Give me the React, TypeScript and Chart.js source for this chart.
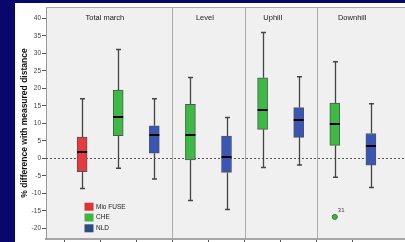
import React, { useEffect, useRef } from 'react';
import { Chart, registerables } from 'chart.js';

Chart.register(...registerables);

// slot 0 and slot 10 are empty padding slots
const slots = ['', 'Mio FUSE', 'CHE', 'NLD', 'CHE', 'NLD', 'CHE', 'NLD', 'CHE', 'NLD', ''];
const whiskerLow = [null, -8.6, -2.8, -5.9, -12.0, -14.6, -2.6, -1.9, -5.4, -8.3, null];
const q1 = [null, -3.8, 6.5, 1.5, -0.4, -4.0, 8.3, 6.0, 3.7, -1.9, null];
const median = [null, 1.9, 11.9, 6.7, 6.7, 0.5, 13.9, 11.0, 9.7, 3.4, null];
const q3 = [null, 6.1, 19.5, 9.3, 15.4, 6.4, 23.0, 14.5, 15.8, 7.1, null];
const whiskerHigh = [null, 17.0, 31.1, 17.0, 23.1, 11.7, 35.9, 23.3, 27.6, 15.6, null];
const outliers = [null, null, null, null, null, null, null, null, -16.7, null, null];
const outlierLabels = ['', '', '', '', '', '', '', '', '31', '', ''];

const groups = ['Total march', 'Level', 'Uphill', 'Downhill'];
const groupTitleX = [1.63, 4.4, 6.28, 8.48];
const groupDividers = [3.5, 5.5, 7.5];
const yTicks = [-20, -15, -10, -5, 0, 5, 10, 15, 20, 25, 30, 35, 40];
const legendItems = ['Mio FUSE', 'CHE', 'NLD'];
const yTitle = '% difference with measured distance';

const boxColors: Record<string, string> = {
  'Mio FUSE': '#e53a3f',
  CHE: '#3fb848',
  NLD: '#3a56b2',
};
const legendColors: Record<string, string> = {
  'Mio FUSE': '#e03434',
  CHE: '#40b444',
  NLD: '#2c4c82',
};

const FONT = '"Liberation Sans", Arial, sans-serif';

const boxPlugin = {
  id: 'boxPlugin',
  beforeDraw(chart: any) {
    const { ctx, chartArea } = chart;
    ctx.save();
    ctx.fillStyle = '#f0f0f0';
    ctx.fillRect(chartArea.left, chartArea.top, chartArea.right - chartArea.left, chartArea.bottom - chartArea.top);
    ctx.restore();
  },
  beforeDatasetsDraw(chart: any) {
    const { ctx, chartArea, scales } = chart;
    const xs = scales.x;
    const ys = scales.y;
    ctx.save();
    // top border
    ctx.strokeStyle = '#a8a8a8';
    ctx.lineWidth = 1;
    ctx.beginPath();
    ctx.moveTo(chartArea.left, chartArea.top + 0.5);
    ctx.lineTo(chartArea.right, chartArea.top + 0.5);
    ctx.stroke();
    // group dividers
    ctx.strokeStyle = '#ababab';
    groupDividers.forEach((d) => {
      const x = Math.round(xs.getPixelForValue(d)) + 0.5;
      ctx.beginPath();
      ctx.moveTo(x, chartArea.top);
      ctx.lineTo(x, chartArea.bottom);
      ctx.stroke();
    });
    // zero reference line
    const y0 = Math.round(ys.getPixelForValue(0)) + 0.5;
    ctx.strokeStyle = '#555';
    ctx.setLineDash([2, 2]);
    ctx.beginPath();
    ctx.moveTo(chartArea.left, y0);
    ctx.lineTo(chartArea.right, y0);
    ctx.stroke();
    ctx.setLineDash([]);
    // whiskers
    ctx.strokeStyle = '#444';
    ctx.lineWidth = 1.3;
    for (let i = 0; i < slots.length; i++) {
      if (whiskerLow[i] == null) continue;
      const x = Math.round(xs.getPixelForValue(i)) + 0.5;
      const yl = ys.getPixelForValue(whiskerLow[i] as number);
      const yh = ys.getPixelForValue(whiskerHigh[i] as number);
      const yq1 = ys.getPixelForValue(q1[i] as number);
      const yq3 = ys.getPixelForValue(q3[i] as number);
      ctx.beginPath();
      ctx.moveTo(x, yh);
      ctx.lineTo(x, yq3);
      ctx.moveTo(x, yq1);
      ctx.lineTo(x, yl);
      ctx.stroke();
      ctx.lineWidth = 1.5;
      ctx.beginPath();
      ctx.moveTo(x - 2.5, yh);
      ctx.lineTo(x + 2.5, yh);
      ctx.moveTo(x - 2.5, yl);
      ctx.lineTo(x + 2.5, yl);
      ctx.stroke();
      ctx.lineWidth = 1.3;
    }
    ctx.restore();
  },
  afterDatasetsDraw(chart: any) {
    const { ctx, chartArea, scales } = chart;
    const xs = scales.x;
    const ys = scales.y;
    ctx.save();
    // medians
    ctx.strokeStyle = '#000';
    ctx.lineWidth = 2;
    for (let i = 0; i < slots.length; i++) {
      if (median[i] == null) continue;
      const x = xs.getPixelForValue(i);
      const y = Math.round(ys.getPixelForValue(median[i] as number));
      ctx.beginPath();
      ctx.moveTo(x - 5, y);
      ctx.lineTo(x + 5, y);
      ctx.stroke();
    }
    // outlier labels
    ctx.fillStyle = '#444';
    ctx.font = `6px ${FONT}`;
    ctx.textAlign = 'left';
    ctx.textBaseline = 'middle';
    for (let i = 0; i < slots.length; i++) {
      if (outliers[i] == null || !outlierLabels[i]) continue;
      const x = xs.getPixelForValue(i);
      const y = ys.getPixelForValue(outliers[i] as number);
      ctx.fillText(outlierLabels[i], x + 3, y - 6.5);
    }
    // group titles
    ctx.fillStyle = '#222';
    ctx.font = `7.5px ${FONT}`;
    ctx.textAlign = 'center';
    ctx.textBaseline = 'middle';
    groups.forEach((g, k) => {
      ctx.fillText(g, xs.getPixelForValue(groupTitleX[k]), chartArea.top + 11);
    });
    // legend
    ctx.font = `6.5px ${FONT}`;
    ctx.textAlign = 'left';
    legendItems.forEach((name, k) => {
      const lx = chartArea.left + 38.5;
      const ly = chartArea.top + 195.7 + k * 10.8;
      ctx.fillStyle = legendColors[name];
      ctx.fillRect(lx, ly, 9, 8);
      ctx.fillStyle = '#222';
      ctx.fillText(name, lx + 11.5, ly + 4.2);
    });
    ctx.restore();
  },
};

export default function App() {
  const ref = useRef<HTMLCanvasElement | null>(null);
  useEffect(() => {
    if (!ref.current) return;
    const chart = new Chart(ref.current, {
      type: 'bar',
      data: {
        labels: slots,
        datasets: [
          {
            type: 'bar',
            data: q1.map((v, i) => (v == null ? null : [v, q3[i] as number])) as any,
            backgroundColor: slots.map((s) => boxColors[s] || 'transparent'),
            borderColor: '#555',
            borderWidth: 1,
            borderSkipped: false,
            barThickness: 10,
            grouped: false,
          } as any,
          {
            type: 'line',
            data: outliers as any,
            showLine: false,
            pointRadius: 2.5,
            pointBackgroundColor: boxColors.CHE,
            pointBorderColor: '#2a7d2f',
            pointBorderWidth: 1,
          } as any,
        ],
      },
      options: {
        responsive: false,
        animation: false,
        events: [],
        layout: { autoPadding: false, padding: { top: 7, left: 0, right: 0, bottom: 0 } },
        plugins: { legend: { display: false }, tooltip: { enabled: false } },
        scales: {
          x: {
            type: 'category',
            offset: false,
            ticks: { display: false },
            grid: {
              drawOnChartArea: false,
              drawTicks: true,
              tickLength: 4,
              color: (c: any) => (c.index === 0 || c.index === slots.length - 1 ? 'rgba(0,0,0,0)' : '#555'),
            },
            border: { display: true, color: '#a6a6a6', width: 2 },
            afterFit: (s: any) => {
              s.height = 3;
              s.paddingLeft = 0;
              s.paddingRight = 0;
            },
          },
          y: {
            type: 'linear',
            min: -23,
            max: 43.2,
            afterBuildTicks: (s: any) => {
              s.ticks = yTicks.map((v) => ({ value: v }));
            },
            ticks: {
              color: '#444',
              padding: 1,
              font: { family: FONT, size: 6.5 },
              callback: (v: any) => String(v),
            },
            grid: { drawOnChartArea: false, drawTicks: true, tickLength: 4, color: '#555' },
            border: { display: true, color: '#999', width: 1 },
            title: {
              display: true,
              text: yTitle,
              color: '#111',
              font: { family: FONT, size: 8.5, weight: 'bold' },
              padding: { top: 20, bottom: 0 },
            },
            afterFit: (s: any) => {
              s.width = 46;
              s.paddingTop = 0;
              s.paddingBottom = 0;
            },
          },
        },
      },
      plugins: [boxPlugin],
    });
    return () => chart.destroy();
  }, []);

  return (
    <div
      style={{
        position: 'fixed',
        left: 0,
        top: 0,
        width: 405,
        height: 242,
        overflow: 'hidden',
        background: '#08086c',
      }}
    >
      <div style={{ position: 'absolute', left: 15, top: 3, right: 0, bottom: 0, background: '#ffffff' }} />
      <canvas
        ref={ref}
        width={407}
        height={242}
        style={{ position: 'absolute', left: 0, top: 0, width: 407, height: 242 }}
      />
    </div>
  );
}
